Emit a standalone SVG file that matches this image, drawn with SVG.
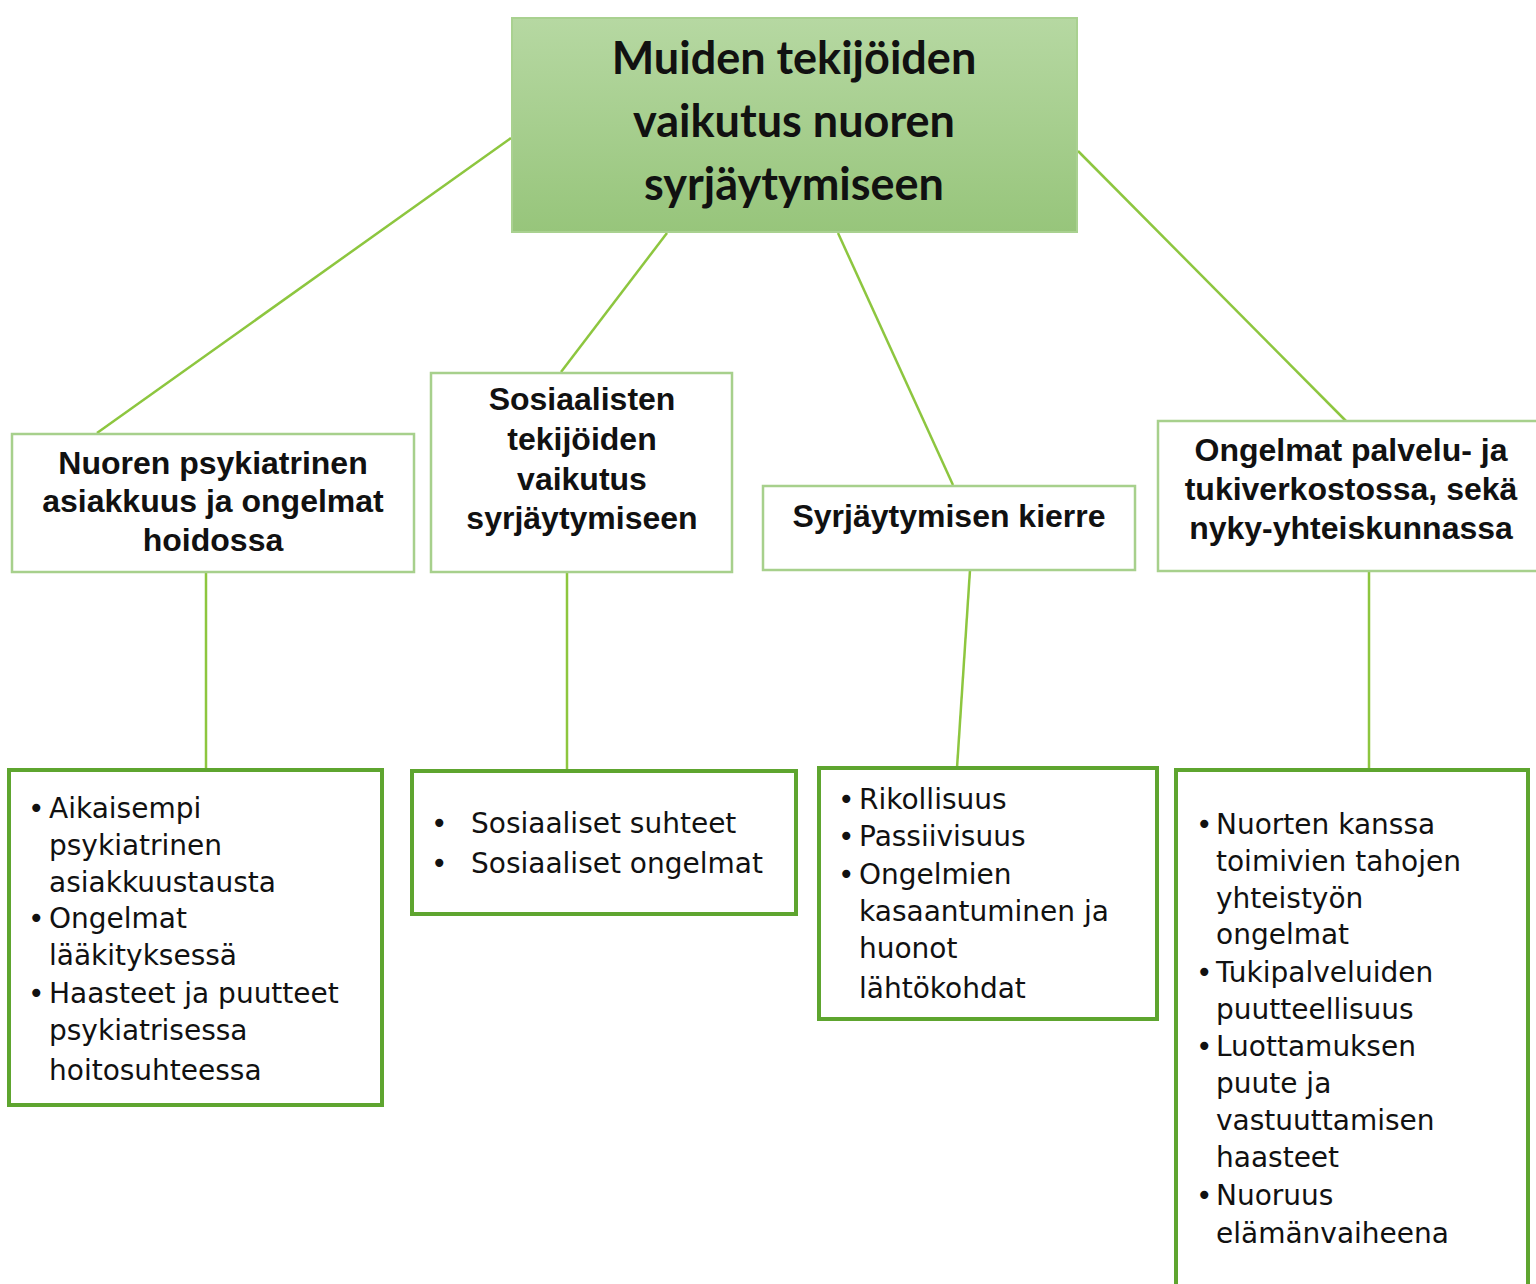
<svg xmlns="http://www.w3.org/2000/svg" width="1536" height="1284" viewBox="0 0 1536 1284">
<style>
.title{font-family:Lato,"Liberation Sans",sans-serif;font-weight:700;font-size:45px;fill:#111;text-anchor:middle}
.h2{font-family:"Liberation Sans",Arial,sans-serif;font-weight:700;font-size:32px;fill:#111;text-anchor:middle}
.body{font-family:"DejaVu Sans",sans-serif;font-size:28px;fill:#111}
.l2box{fill:#fff;stroke:#a7d08c;stroke-width:2.5}
.l3box{fill:#fff;stroke:#5ea52f;stroke-width:4}
.conn{stroke:#8dc63f;stroke-width:2.5;fill:none}
</style>
<defs>
<linearGradient id="g" x1="0" y1="0" x2="0" y2="1">
<stop offset="0" stop-color="#b6d8a2"/>
<stop offset="1" stop-color="#97c57b"/>
</linearGradient>
</defs>
<rect width="1536" height="1284" fill="#fff"/>
<g id="connectors">
<line class="conn" x1="511" y1="138" x2="97" y2="433"/>
<line class="conn" x1="667" y1="233" x2="561" y2="372"/>
<line class="conn" x1="838" y1="233" x2="953" y2="485"/>
<line class="conn" x1="1078" y1="151" x2="1346" y2="421"/>
<line class="conn" x1="206" y1="572" x2="206" y2="770"/>
<line class="conn" x1="567" y1="572" x2="567" y2="771"/>
<line class="conn" x1="970" y1="570" x2="957" y2="768"/>
<line class="conn" x1="1369" y1="571" x2="1369" y2="770"/>
</g>
<g id="top">
<rect x="512" y="18" width="565" height="214" fill="url(#g)" stroke="#a9d190" stroke-width="2"/>
<text class="title" x="794" y="74">Muiden tekijöiden</text>
<text class="title" x="794" y="137">vaikutus nuoren</text>
<text class="title" x="794" y="200">syrjäytymiseen</text>
</g>
<g id="n1">
<rect class="l2box" x="12" y="434" width="402" height="138"/>
<text class="h2" x="213" y="474">Nuoren psykiatrinen</text>
<text class="h2" x="213" y="512">asiakkuus ja ongelmat</text>
<text class="h2" x="213" y="551">hoidossa</text>
</g>
<g id="n2">
<rect class="l2box" x="431" y="373" width="301" height="199"/>
<text class="h2" x="582" y="410">Sosiaalisten</text>
<text class="h2" x="582" y="450">tekijöiden</text>
<text class="h2" x="582" y="490">vaikutus</text>
<text class="h2" x="582" y="529">syrjäytymiseen</text>
</g>
<g id="n3">
<rect class="l2box" x="763" y="486" width="372" height="84"/>
<text class="h2" x="949" y="527">Syrjäytymisen kierre</text>
</g>
<g id="n4">
<rect class="l2box" x="1158" y="421" width="390" height="150"/>
<text class="h2" x="1351" y="461">Ongelmat palvelu- ja</text>
<text class="h2" x="1351" y="500">tukiverkostossa, sekä</text>
<text class="h2" x="1351" y="539">nyky-yhteiskunnassa</text>
</g>
<g id="b1">
<rect class="l3box" x="9" y="770" width="373" height="335"/>
<text class="body" x="28" y="818">•</text><text class="body" x="49" y="818">Aikaisempi</text>
<text class="body" x="49" y="855">psykiatrinen</text>
<text class="body" x="49" y="892">asiakkuustausta</text>
<text class="body" x="28" y="928">•</text><text class="body" x="49" y="928">Ongelmat</text>
<text class="body" x="49" y="965">lääkityksessä</text>
<text class="body" x="28" y="1003">•</text><text class="body" x="49" y="1003">Haasteet ja puutteet</text>
<text class="body" x="49" y="1040">psykiatrisessa</text>
<text class="body" x="49" y="1080">hoitosuhteessa</text>
</g>
<g id="b2">
<rect class="l3box" x="412" y="771" width="384" height="143"/>
<text class="body" x="431" y="833">•</text><text class="body" x="471" y="833">Sosiaaliset suhteet</text>
<text class="body" x="431" y="873">•</text><text class="body" x="471" y="873">Sosiaaliset ongelmat</text>
</g>
<g id="b3">
<rect class="l3box" x="819" y="768" width="338" height="251"/>
<text class="body" x="838" y="809">•</text><text class="body" x="859" y="809">Rikollisuus</text>
<text class="body" x="838" y="846">•</text><text class="body" x="859" y="846">Passiivisuus</text>
<text class="body" x="838" y="884">•</text><text class="body" x="859" y="884">Ongelmien</text>
<text class="body" x="859" y="921">kasaantuminen ja</text>
<text class="body" x="859" y="958">huonot</text>
<text class="body" x="859" y="998">lähtökohdat</text>
</g>
<g id="b4">
<path class="l3box" d="M1176 1290 V770 H1528 V1290"/>
<text class="body" x="1196" y="834">•</text><text class="body" x="1216" y="834">Nuorten kanssa</text>
<text class="body" x="1216" y="871">toimivien tahojen</text>
<text class="body" x="1216" y="908">yhteistyön</text>
<text class="body" x="1216" y="944">ongelmat</text>
<text class="body" x="1196" y="982">•</text><text class="body" x="1216" y="982">Tukipalveluiden</text>
<text class="body" x="1216" y="1019">puutteellisuus</text>
<text class="body" x="1196" y="1056">•</text><text class="body" x="1216" y="1056">Luottamuksen</text>
<text class="body" x="1216" y="1093">puute ja</text>
<text class="body" x="1216" y="1130">vastuuttamisen</text>
<text class="body" x="1216" y="1167">haasteet</text>
<text class="body" x="1196" y="1205">•</text><text class="body" x="1216" y="1205">Nuoruus</text>
<text class="body" x="1216" y="1243">elämänvaiheena</text>
</g>
</svg>
